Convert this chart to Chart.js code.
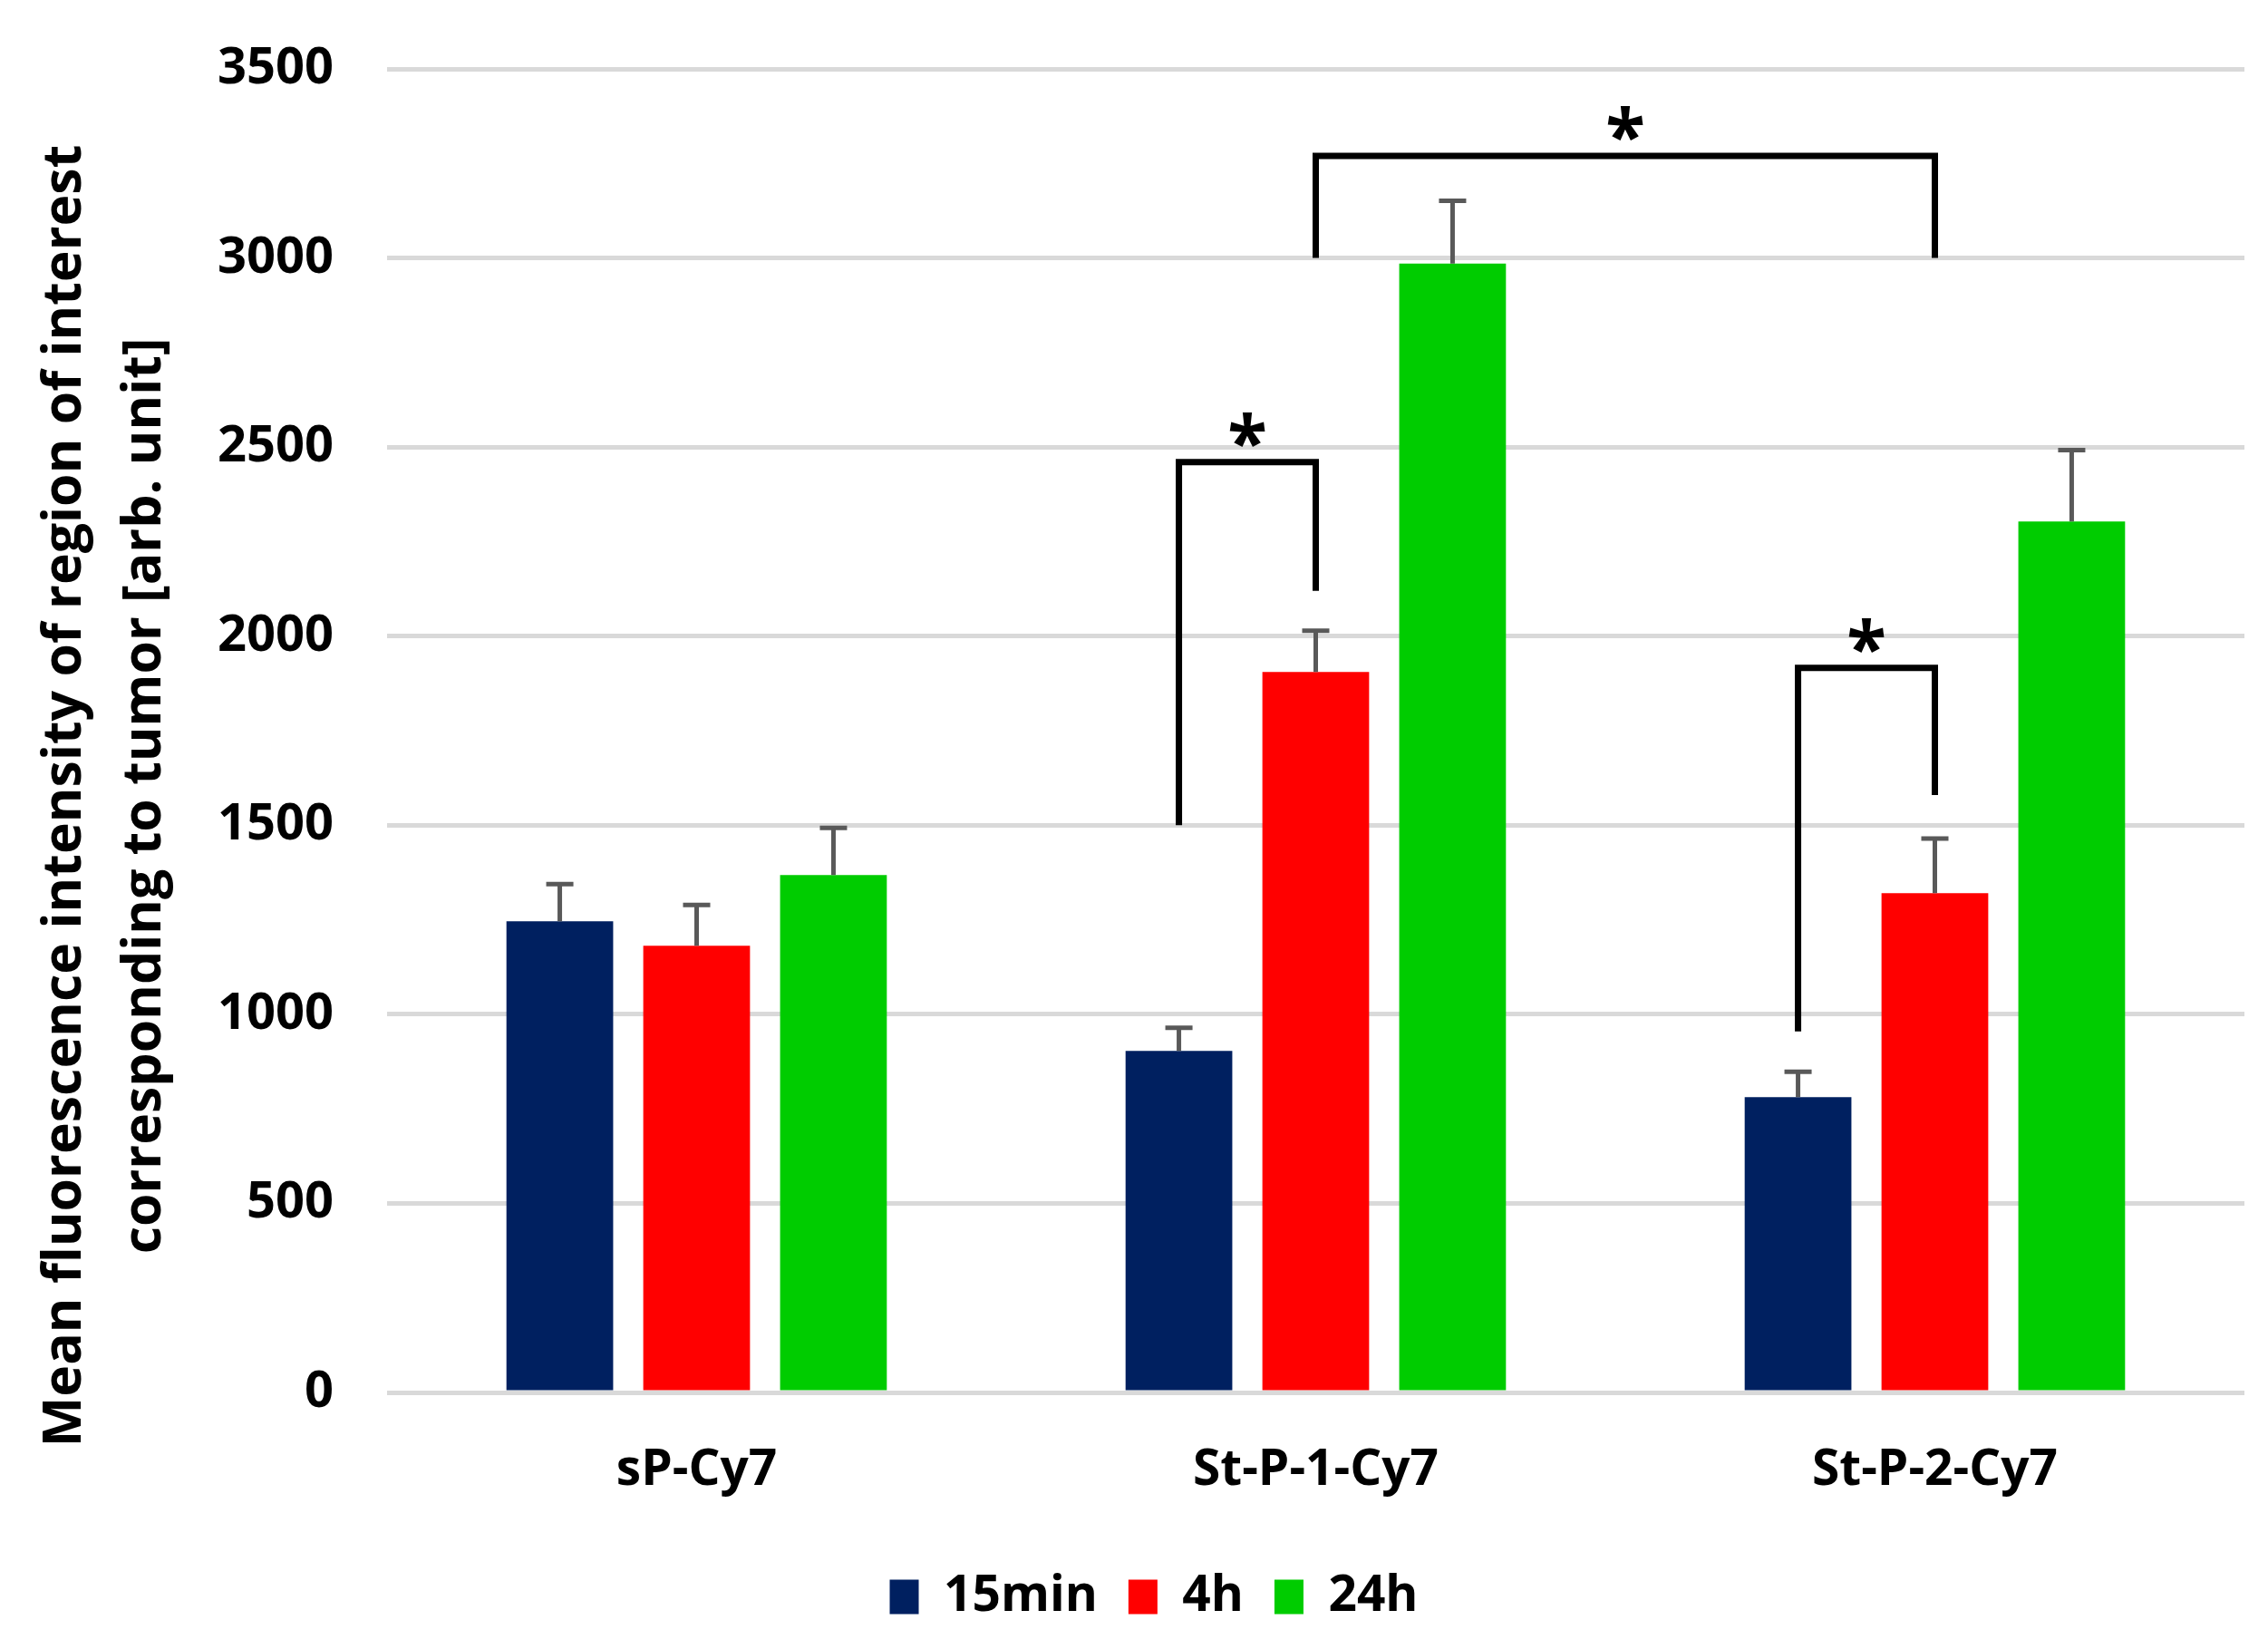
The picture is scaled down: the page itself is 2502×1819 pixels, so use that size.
<!DOCTYPE html>
<html>
<head>
<meta charset="utf-8">
<script src="https://cdn.jsdelivr.net/npm/chart.js@4.4.1/dist/chart.umd.min.js"></script>
<style>
  html, body { margin: 0; padding: 0; background: #fff; }
  canvas { display: block; }
</style>
</head>
<body>
<canvas id="chart" width="2502" height="1819"></canvas>
<script>
// Data
const categories = ["sP-Cy7", "St-P-1-Cy7", "St-P-2-Cy7"];
const seriesNames = ["15min", "4h", "24h"];
const values15min = [1246, 903, 781];
const values4h = [1181, 1905, 1320];
const values24h = [1368, 2985, 2303];
const errors15min = [98, 61, 67];
const errors4h = [108, 109, 145];
const errors24h = [125, 166, 189];
const yMin = 0, yMax = 3500, yStep = 500;
const yTitleLines = ["Mean fluorescence intensity of region of interest", "corresponding to tumor [arb. unit]"];

// Significance brackets: [category, series] for each leg, value of top line and leg ends
const brackets = [
  {from: [1, 0], to: [1, 1], top: 2460, fromEnd: 1500, toEnd: 2120},
  {from: [1, 1], to: [2, 1], top: 3270, fromEnd: 3000, toEnd: 3000},
  {from: [2, 0], to: [2, 1], top: 1916, fromEnd: 955, toEnd: 1580}
];

const colors = ["#002060", "#FF0000", "#00CC00"];
const FONT = "'Open Sans', 'DejaVu Sans', sans-serif";

const seriesValues = [values15min, values4h, values24h];
const seriesErrors = [errors15min, errors4h, errors24h];

// Error bars (upper only), drawn from the bar elements
const errorBarsPlugin = {
  id: "errorBars",
  afterDatasetsDraw(chart) {
    const ctx = chart.ctx;
    const y = chart.scales.y;
    ctx.save();
    ctx.strokeStyle = "#595959";
    ctx.lineWidth = 5;
    ctx.lineCap = "butt";
    chart.data.datasets.forEach((ds, i) => {
      const meta = chart.getDatasetMeta(i);
      meta.data.forEach((bar, j) => {
        const yTop = y.getPixelForValue(ds.data[j] + seriesErrors[i][j]);
        ctx.beginPath();
        ctx.moveTo(bar.x, bar.y);
        ctx.lineTo(bar.x, yTop);
        ctx.moveTo(bar.x - 15, yTop);
        ctx.lineTo(bar.x + 15, yTop);
        ctx.stroke();
      });
    });
    ctx.restore();
  }
};

// Significance brackets with asterisks
const bracketPlugin = {
  id: "brackets",
  afterDatasetsDraw(chart) {
    const ctx = chart.ctx;
    const y = chart.scales.y;
    ctx.save();
    ctx.strokeStyle = "#000";
    ctx.lineWidth = 7;
    ctx.lineJoin = "miter";
    ctx.lineCap = "butt";
    brackets.forEach(b => {
      const x1 = chart.getDatasetMeta(b.from[1]).data[b.from[0]].x;
      const x2 = chart.getDatasetMeta(b.to[1]).data[b.to[0]].x;
      const yt = y.getPixelForValue(b.top);
      ctx.beginPath();
      ctx.moveTo(x1, y.getPixelForValue(b.fromEnd));
      ctx.lineTo(x1, yt);
      ctx.lineTo(x2, yt);
      ctx.lineTo(x2, y.getPixelForValue(b.toEnd));
      ctx.stroke();

      ctx.fillStyle = "#000";
      ctx.font = "bold 80px " + FONT;
      ctx.textAlign = "center";
      ctx.textBaseline = "alphabetic";
      const m = ctx.measureText("*");
      const glyphMid = (m.actualBoundingBoxAscent - m.actualBoundingBoxDescent) / 2;
      ctx.fillText("*", (x1 + x2) / 2, yt - 36 + glyphMid);
    });
    ctx.restore();
  }
};

// Two-line y axis title
const yTitlePlugin = {
  id: "yTitle",
  afterDraw(chart) {
    const ctx = chart.ctx;
    ctx.save();
    ctx.translate(0, 878);
    ctx.rotate(-Math.PI / 2);
    ctx.fillStyle = "#000";
    ctx.font = "bold 59px " + FONT;
    ctx.textAlign = "center";
    ctx.textBaseline = "middle";
    ctx.fillText(yTitleLines[0], 0, 72);
    ctx.fillText(yTitleLines[1], 0, 160);
    ctx.restore();
  }
};

new Chart(document.getElementById("chart"), {
  type: "bar",
  data: {
    labels: categories,
    datasets: seriesNames.map((name, i) => ({
      label: name,
      data: seriesValues[i],
      backgroundColor: colors[i],
      borderWidth: 0,
      categoryPercentage: 0.663,
      barPercentage: 0.78
    }))
  },
  options: {
    responsive: false,
    devicePixelRatio: 1,
    animation: false,
    layout: {autoPadding: false, padding: {left: 70, right: 26, top: 76, bottom: 20}},
    scales: {
      x: {
        grid: {display: false},
        border: {display: false},
        ticks: {color: "#000", font: {family: FONT, size: 55, weight: "bold"}, padding: 45},
        afterFit: s => { s.height = 164; }
      },
      y: {
        min: yMin, max: yMax,
        // invisible tick marks give the label gap without adding vertical padding
        grid: {color: "#D9D9D9", lineWidth: 5, drawTicks: true, tickLength: 49, tickColor: "rgba(0,0,0,0)"},
        border: {display: false},
        ticks: {
          stepSize: yStep, color: "#000", padding: 10,
          font: {family: FONT, size: 56, weight: "bold"},
          callback: v => String(v)
        },
        afterFit: s => { s.width = 357; }
      }
    },
    plugins: {
      legend: {
        position: "bottom",
        labels: {
          boxWidth: 32, boxHeight: 38, padding: 34, color: "#000",
          font: {family: FONT, size: 55, weight: "bold"}
        }
      },
      tooltip: {enabled: false}
    }
  },
  plugins: [errorBarsPlugin, bracketPlugin, yTitlePlugin]
});
</script>
</body>
</html>
